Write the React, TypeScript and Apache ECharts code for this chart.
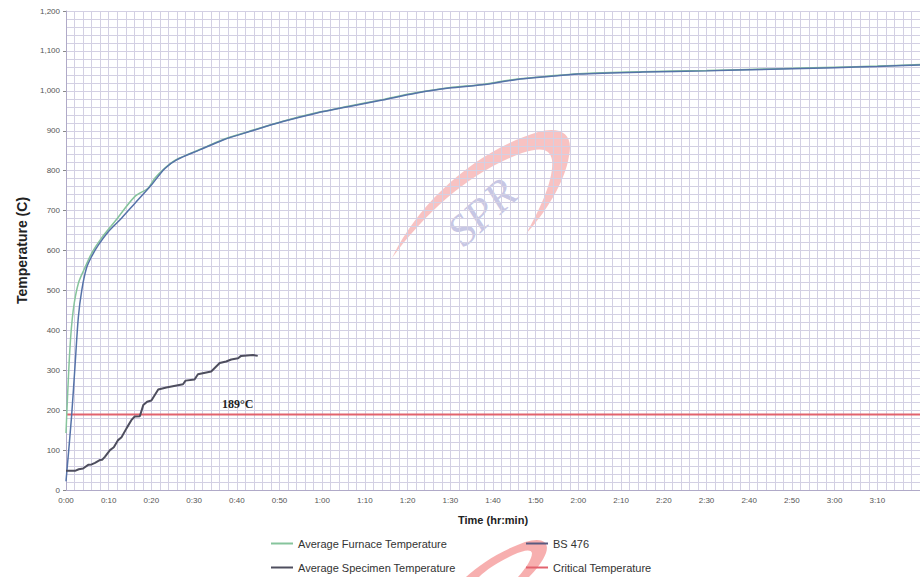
import React, { useEffect, useRef } from "react";
import * as echarts from "echarts";

// Time in minutes, temperatures in °C
const bsTime = [0, 1.3, 2.1, 2.9, 3.7, 4.8, 6.0, 7.6, 9.9, 13.0, 16.1, 20.0, 23.1, 25.9, 31.3, 36.8, 43.0, 50.8, 58.6, 66.4, 74.1, 81.9, 89.7, 97.5, 105.3, 113.1, 120, 135, 150, 165, 180, 190, 200];
const bsTemp = [22, 184, 309, 434, 501, 556, 585, 614, 647, 681, 718, 764, 805, 827, 852, 877, 898, 923, 944, 961, 977, 994, 1007, 1015, 1028, 1036, 1042, 1047, 1050, 1054, 1058, 1061, 1065];

const furnaceTime = [0, 0.9, 1.7, 2.9, 4.4, 6.0, 8.3, 11.4, 16.1, 19.2, 20.8, 23.1, 25.9, 31.3, 36.8, 43.0, 50.8, 58.6, 66.4, 74.1, 81.9, 89.7, 97.5, 105.3, 113.1, 120, 135, 150, 165, 180, 190, 200];
const furnaceTemp = [143, 351, 451, 518, 556, 593, 631, 672, 735, 756, 781, 806, 828, 853, 878, 899, 924, 945, 962, 978, 995, 1008, 1016, 1029, 1037, 1043, 1048, 1051, 1055, 1059, 1062, 1066];

const specimenTime = [0, 2.1, 3.0, 4.0, 5.2, 6.0, 6.8, 7.9, 8.5, 9.1, 10.3, 11.2, 12.2, 13.0, 14.2, 15.3, 16.1, 17.3, 18.1, 19.0, 20.0, 21.6, 23.5, 27.4, 28.0, 30.1, 30.9, 34.0, 36.0, 37.5, 38.7, 40.3, 41.0, 43.8, 44.9];
const specimenTemp = [48, 48, 52, 54, 63, 64, 68, 75, 76, 83, 100, 107, 125, 132, 155, 175, 184, 185, 213, 221, 224, 252, 257, 265, 274, 277, 290, 297, 318, 322, 327, 330, 336, 338, 336];

const criticalTime = [0, 200];
const criticalTemp = [189, 189];
const criticalLabel = "189°C";

const seriesNames = ["Average Furnace Temperature", "Average Specimen Temperature", "BS 476", "Critical Temperature"];

const pair = (t: number[], v: number[]) => t.map((x, i) => [x, v[i]]);

const fmtTime = (v: number) => `${Math.floor(v / 60)}:${String(Math.round(v % 60)).padStart(2, "0")}`;

const legendAt = (name: string, left: number, top: number) => ({
  left,
  top,
  padding: 0,
  orient: "horizontal",
  itemGap: 4,
  itemWidth: 22,
  itemHeight: 2,
  icon: "rect",
  data: [name],
  textStyle: { fontSize: 11, color: "#333", fontFamily: "Liberation Sans, Arial" },
});

export default function App() {
  const ref = useRef<HTMLDivElement>(null);
  useEffect(() => {
    if (!ref.current) return;
    const chart = echarts.init(ref.current, null, { renderer: "svg" });
    echarts.graphic.registerShape(
      "swoosh",
      echarts.graphic.extendPath(
        "M392,258 C420,200 478,150 538,132 C560,126 574,133 569,156 C565,182 546,212 526,234 C542,206 554,178 552,160 C550,148 540,147 522,153 C470,172 426,212 392,258 Z",
        {}
      )
    );
    echarts.graphic.registerShape(
      "swoosh2",
      echarts.graphic.extendPath(
        "M466,577 C480,564 500,551 525,542 C541,537 550,541 546,553 C543,561 536,570 529,577 L518,577 C526,568 532,559 532,553 C531,549 524,550 513,555 C498,562 487,569 479,577 Z",
        {}
      )
    );
    const gridColor = "#d3d0e3";
    chart.setOption({
      animation: false,
      backgroundColor: "#ffffff",
      textStyle: { fontFamily: "Liberation Sans, Arial, sans-serif" },
      grid: { left: 66, right: 0, top: 11, bottom: 87, containLabel: false },
      graphic: [
        { type: "swoosh", z: 0, silent: true, style: { fill: "rgba(240,120,120,0.45)" } },
        { type: "swoosh2", z: 0, silent: true, style: { fill: "rgba(240,110,110,0.55)" } },
        {
          type: "text",
          z: 0,
          x: 482,
          y: 212,
          rotation: 0.74,
          silent: true,
          style: {
            text: "SPR",
            font: "italic 44px 'Liberation Serif', serif",
            fill: "rgba(150,150,205,0.55)",
            align: "center",
            verticalAlign: "middle",
          },
        },
      ],
      legend: [
        legendAt(seriesNames[0], 271, 538),
        legendAt(seriesNames[1], 271, 562),
        legendAt(seriesNames[2], 526, 538),
        legendAt(seriesNames[3], 526, 562),
      ],
      xAxis: {
        type: "value",
        min: 0,
        max: 200,
        interval: 10,
        name: "Time (hr:min)",
        nameLocation: "middle",
        nameGap: 24,
        nameTextStyle: { fontSize: 11, fontWeight: "bold", color: "#222" },
        axisLine: { show: true, lineStyle: { color: "#b0aac8" } },
        axisTick: { show: false },
        axisLabel: {
          fontSize: 8,
          color: "#555",
          margin: 6,
          showMaxLabel: false,
          formatter: (v: number) => fmtTime(v),
        },
        splitLine: { show: true, lineStyle: { color: gridColor, width: 1 } },
        minorTick: { show: false, splitNumber: 5 },
        minorSplitLine: { show: true, lineStyle: { color: gridColor, width: 1 } },
      },
      yAxis: {
        type: "value",
        min: 0,
        max: 1200,
        interval: 100,
        name: "Temperature (C)",
        nameLocation: "middle",
        nameGap: 31,
        nameTextStyle: { fontSize: 14, fontWeight: "bold", color: "#222" },
        axisLine: { show: true, lineStyle: { color: "#b0aac8" } },
        axisTick: { show: true, length: 3, lineStyle: { color: "#888" } },
        axisLabel: {
          fontSize: 8,
          color: "#555",
          margin: 6,
          formatter: (v: number) => v.toLocaleString("en-US"),
        },
        splitLine: { show: true, lineStyle: { color: gridColor, width: 1 } },
        minorTick: { show: false, splitNumber: 5 },
        minorSplitLine: { show: true, lineStyle: { color: gridColor, width: 1 } },
      },
      series: [
        {
          name: seriesNames[3],
          type: "line",
          data: pair(criticalTime, criticalTemp),
          showSymbol: false,
          symbol: "none",
          lineStyle: { color: "#e2636e", width: 2 },
          itemStyle: { color: "#e2636e" },
          z: 3,
          markPoint: {
            symbol: "circle",
            symbolSize: 0,
            data: [{ coord: [40.2, criticalTemp[0]] }],
            label: {
              show: true,
              formatter: criticalLabel,
              offset: [0, -11],
              fontFamily: "Liberation Serif, Times New Roman, serif",
              fontWeight: "bold",
              fontSize: 12,
              color: "#222",
            },
          },
        },
        {
          name: seriesNames[0],
          type: "line",
          data: pair(furnaceTime, furnaceTemp),
          showSymbol: false,
          symbol: "none",
          smooth: 0.3,
          lineStyle: { color: "#86c49c", width: 1.5 },
          itemStyle: { color: "#86c49c" },
          z: 4,
        },
        {
          name: seriesNames[2],
          type: "line",
          data: pair(bsTime, bsTemp),
          showSymbol: false,
          symbol: "none",
          smooth: 0.3,
          lineStyle: { color: "#5572a8", width: 1.5 },
          itemStyle: { color: "#5a5a80" },
          z: 5,
        },
        {
          name: seriesNames[1],
          type: "line",
          data: pair(specimenTime, specimenTemp),
          showSymbol: false,
          symbol: "none",
          lineStyle: { color: "#4e4e5e", width: 2 },
          itemStyle: { color: "#4e4e5e" },
          z: 6,
        },
      ],
    });
    return () => chart.dispose();
  }, []);
  return (
    <div
      ref={ref}
      style={{ position: "fixed", left: 0, top: 0, width: 920, height: 577, background: "#fff" }}
    />
  );
}
